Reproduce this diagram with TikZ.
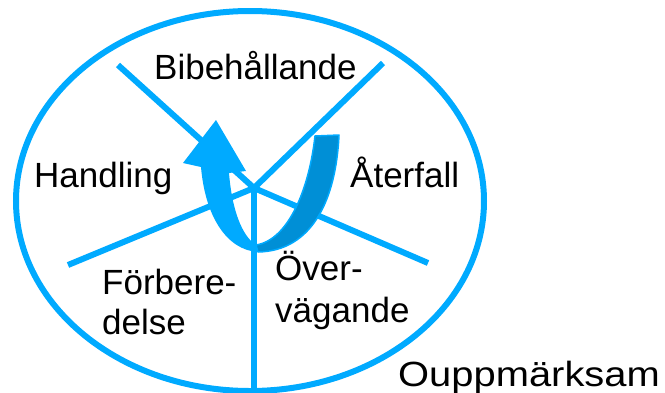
\documentclass[tikz,border=0pt]{standalone}
\usepackage{fontspec}
\usepackage{graphicx}
\setmainfont{Liberation Sans}
\definecolor{ringblue}{HTML}{00AAFF}
\definecolor{backblue}{HTML}{008FD6}
\begin{document}
\begin{tikzpicture}[x=1pt,y=-1pt,
  spoke/.style={draw=ringblue, line width=6pt},
  lbl/.style={anchor=base west, inner sep=0pt, font=\fontsize{35}{40}\selectfont, text=black}]
\useasboundingbox (0,0) rectangle (665,392);
\fill[white] (0,0) rectangle (665,392);
% ring
\draw[spoke] (250,201) ellipse [x radius=234pt, y radius=190pt];
% spokes
\coordinate (hub) at (254,188);
\coordinate (ul) at (118,65);
\coordinate (ur) at (383,63);
\coordinate (ll) at (68,265);
\coordinate (lr) at (428,263);
\coordinate (dn) at (254,395);
\draw[spoke] (hub) -- (ul);
\draw[spoke] (hub) -- (ur);
\draw[spoke] (hub) -- (ll);
\draw[spoke] (hub) -- (lr);
\draw[spoke] (hub) -- (dn);
% back band (dark)
\filldraw[fill=backblue, draw=ringblue, line width=1.5pt, line join=round]
  (339,135) .. controls (336,200) and (312,251) .. (258,252)
  -- (256,245) .. controls (288,240) and (309,190) .. (315,136) -- cycle;
% front band with arrowhead
\fill[ringblue]
  (258,252) .. controls (226,250) and (205,215) .. (201,167)
  -- (183,163) -- (216,120) -- (246,171) -- (229,173)
  .. controls (232,210) and (242,236) .. (256,245) -- cycle;
% labels
\node[lbl] (bib) at (154,79) {Bibehållande};
\node[lbl] (han) at (34,187) {Handling};
\node[lbl] (ate) at (350,187) {Återfall};
\node[lbl] (for) at (102,294) {Förbere-};
\node[lbl] (del) at (102,334) {delse};
\node[lbl] (ove) at (275,280) {Över-};
\node[lbl] (vag) at (275,322) {vägande};
\node[lbl, font=\fontsize{35}{40}\selectfont] (oup) at (398,386) {\scalebox{1.14}[1]{Ouppmärksam}};
\end{tikzpicture}
\end{document}
